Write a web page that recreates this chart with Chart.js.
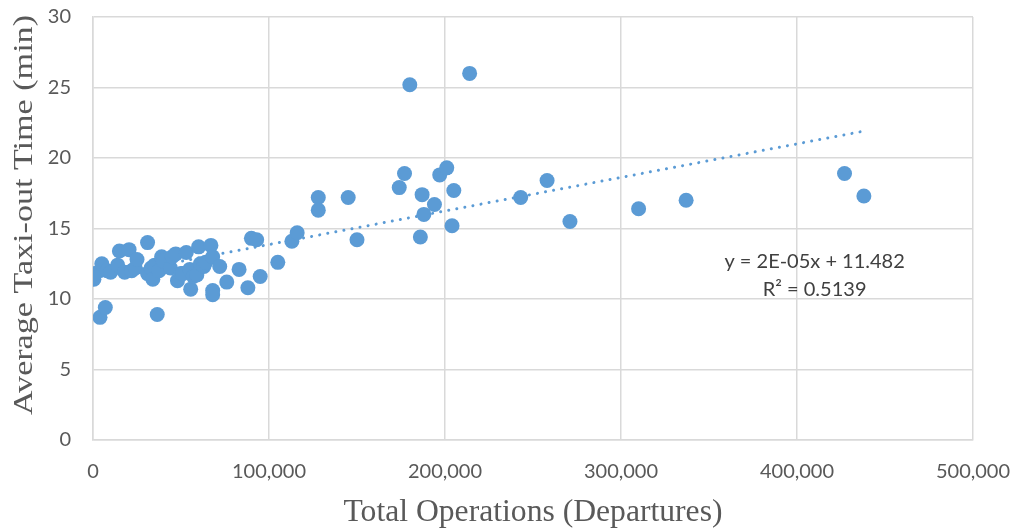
<!DOCTYPE html>
<html>
<head>
<meta charset="utf-8">
<script src="https://cdn.jsdelivr.net/npm/chart.js@4"></script>
<style>
html,body{margin:0;padding:0;background:#fff;}
#wrap{width:1015px;height:532px;position:relative;}
</style>
</head>
<body>
<div id="wrap"><canvas id="c" width="1015" height="532"></canvas></div>
<script>
// Total operations (departures) per airport
const opsX = [500,1000,4000,5000,7000,8000,10000,14000,15000,18000,20500,22000,24000,25000,
  31000,31000,33000,34000,35000,36500,37500,39000,40000,44000,45000,47000,48000,50000,51000,
  53000,55000,55500,57000,59000,60000,61000,63000,64000,67000,68000,68000,68000,72000,76000,
  83000,88000,90000,93000,95000,105000,113000,116000,128000,128000,145000,150000,174000,
  177000,180000,186000,187000,188000,194000,197000,201000,204000,205000,214000,243000,
  258000,271000,310000,337000,427000,438000];
// Average taxi-out time (min)
const taxiY = [11.4,11.8,8.7,12.5,9.4,12.0,11.9,12.4,13.4,11.9,13.5,12.0,12.2,12.8,
  14.0,11.8,12.2,11.4,12.4,8.9,12.0,13.0,12.7,12.2,13.0,13.2,11.3,11.8,11.8,
  13.3,12.1,10.7,11.6,11.7,13.7,12.5,12.3,12.6,13.8,13.0,10.6,10.3,12.3,11.2,
  12.1,10.8,14.3,14.2,11.6,12.6,14.1,14.7,17.2,16.3,17.2,14.2,17.9,
  18.9,25.2,14.4,17.4,16.0,16.7,18.8,19.3,15.2,17.7,26.0,17.2,
  18.4,15.5,16.4,17.0,18.9,17.3];
// Trendline as printed on the chart (slope)
const trendIntercept = 11.482;
const trendSlope = 0.0000238;
const equationLines = ["y = 2E-05x + 11.482", "R\u00b2 = 0.5139"];
const xTicks = [0,100000,200000,300000,400000,500000];
const yTicks = [0,5,10,15,20,25,30];
const xTitle = 'Total Operations (Departures)';
const yTitle = 'Average Taxi-out Time (min)';

const pts = opsX.map((x,i)=>({x:x,y:taxiY[i]}));
const xMin = Math.min(...opsX), xMax = Math.max(...opsX);
const trend = [{x:xMin,y:trendIntercept+trendSlope*xMin},{x:xMax,y:trendIntercept+trendSlope*xMax}];

const blue = '#5B9BD5';
const grid = '#D9D9D9';
const textCol = '#595959';

const textPlugin = {
  id:'texts',
  afterDatasetsDraw(chart){
    const ctx = chart.ctx, ca = chart.chartArea;
    ctx.save();
    // trendline equation
    ctx.fillStyle = '#404040';
    ctx.font = '20px Lato';
    ctx.textAlign = 'center';
    ctx.textBaseline = 'middle';
    const cx = ca.left + (ca.right-ca.left)*0.82;
    const y0 = ca.top + (ca.bottom-ca.top)*0.578;
    equationLines.forEach((t,i)=>ctx.fillText(t, cx, y0 + i*28));
    // axis titles (stretched like the original)
    ctx.fillStyle = textCol;
    ctx.font = '28px "Liberation Serif"';
    let w = ctx.measureText(yTitle).width;
    ctx.save();
    ctx.translate(25, 215);
    ctx.rotate(-Math.PI/2);
    ctx.scale(400/w, 1);
    ctx.fillText(yTitle, 0, 0);
    ctx.restore();
    ctx.font = '32px "Liberation Serif"';
    w = ctx.measureText(xTitle).width;
    ctx.save();
    ctx.translate(533, 513);
    ctx.scale(379/w, 1);
    ctx.fillText(xTitle, 0, 0);
    ctx.restore();
    ctx.restore();
  }
};

new Chart(document.getElementById('c'), {
  type:'scatter',
  data:{datasets:[
    {label:'pts', data:pts, backgroundColor:blue, borderColor:blue, borderWidth:0,
     pointRadius:7.5, pointHoverRadius:7.5, order:0},
    {label:'trend', type:'line', data:trend, showLine:true, borderColor:blue,
     borderWidth:3, borderDash:[0.01,8.2], borderCapStyle:'round', pointRadius:0,
     fill:false, order:1}
  ]},
  options:{
    responsive:false, animation:false,
    layout:{padding:{top:17,right:42,left:0,bottom:0}},
    plugins:{legend:{display:false}, tooltip:{enabled:false}},
    scales:{
      x:{type:'linear', min:0, max:500000,
        afterBuildTicks(a){a.ticks = xTicks.map(v=>({value:v}));},
        afterFit(a){a.height = 92; a.paddingLeft = 0; a.paddingRight = 0;},
        grid:{color:grid, lineWidth:1.5, drawTicks:false},
        border:{color:grid, width:1.5},
        ticks:{padding:20, color:textCol, font:{family:'Lato', size:20},
          maxRotation:0, callback:v=>v.toLocaleString('en-US')}
      },
      y:{min:0, max:30,
        afterBuildTicks(a){a.ticks = yTicks.map(v=>({value:v}));},
        afterFit(a){a.width = 93; a.paddingTop = 0; a.paddingBottom = 0;},
        grid:{color:grid, lineWidth:1.5, drawTicks:false},
        border:{color:grid, width:1.5},
        ticks:{padding:22, color:textCol, font:{family:'Lato', size:20}}
      }
    }
  },
  plugins:[textPlugin]
});
</script>
</body>
</html>
